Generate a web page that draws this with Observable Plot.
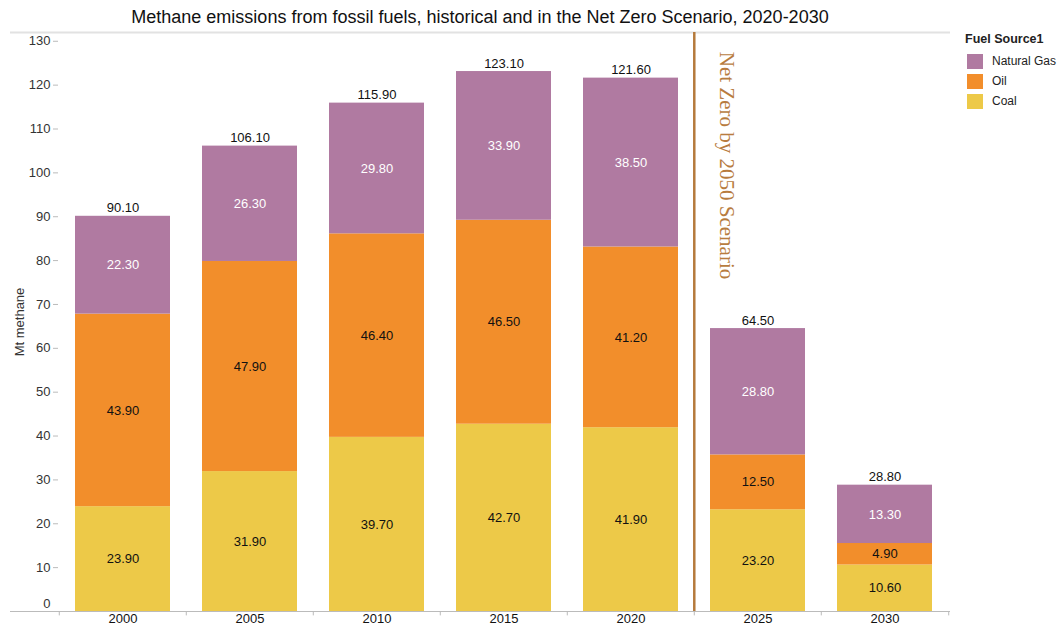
<!DOCTYPE html>
<html>
<head>
<meta charset="utf-8">
<script src="https://cdn.jsdelivr.net/npm/d3@7"></script>
<script src="https://cdn.jsdelivr.net/npm/@observablehq/plot@0.6"></script>
<style>
  html, body { margin: 0; padding: 0; background: #fff; }
  body { width: 1064px; height: 626px; position: relative; overflow: hidden; font-family: "Liberation Sans", Arial, sans-serif; }
  #title { position: absolute; left: 0; width: 960px; top: 7px; text-align: center; font-size: 18px; color: #111; }
  #chart { position: absolute; left: 0; top: 26px; }
  #chart svg { overflow: visible; }
  #legend { position: absolute; left: 965px; top: 32px; font-size: 12px; color: #222; }
  #legend .lt { font-weight: bold; font-size: 12.5px; margin-bottom: 5px; }
  #legend .row { display: flex; align-items: center; height: 20px; }
  #legend .sw { width: 16px; height: 15px; margin-left: 2px; margin-right: 9px; }
</style>
</head>
<body>
<div id="title">Methane emissions from fossil fuels, historical and in the Net Zero Scenario, 2020-2030</div>
<div id="chart"></div>
<div id="legend"></div>
<script>
const years = ["2000", "2005", "2010", "2015", "2020", "2025", "2030"];
const coal = [23.9, 31.9, 39.7, 42.7, 41.9, 23.2, 10.6];
const oil = [43.9, 47.9, 46.4, 46.5, 41.2, 12.5, 4.9];
const gas = [22.3, 26.3, 29.8, 33.9, 38.5, 28.8, 13.3];
const totals = [90.1, 106.1, 115.9, 123.1, 121.6, 64.5, 28.8];
const fuels = ["Natural Gas", "Oil", "Coal"];
const colors = ["#b07aa1", "#f28e2b", "#edc948"];
const yTicks = [10, 20, 30, 40, 50, 60, 70, 80, 90, 100, 110, 120, 130];
const scenarioStart = "2025";
const scenarioLabel = "Net Zero by 2050 Scenario";

// build long table, stacking order: Coal bottom, Oil, Natural Gas top
const rows = [];
years.forEach((yr, i) => {
  const segs = [["Coal", coal[i]], ["Oil", oil[i]], ["Natural Gas", gas[i]]];
  let base = 0;
  for (const [fuel, v] of segs) {
    rows.push({year: yr, fuel, value: v, y1: base, y2: base + v, mid: base + v / 2});
    base += v;
  }
});
const totalRows = years.map((yr, i) => ({year: yr, total: totals[i]}));

const W = 1064, H = 600;
const mL = 58, mR = 114, mT = 6, mB = 15;
const step = (W - mL - mR) / years.length;
const yTop = 132;

const plot = Plot.plot({
  width: W,
  height: H,
  marginLeft: mL,
  marginRight: mR,
  marginTop: mT,
  marginBottom: mB,
  style: {fontFamily: "Liberation Sans, Arial, sans-serif", fontSize: "13px", color: "#222"},
  x: {domain: years, paddingInner: 0.25, paddingOuter: 0.125, label: null},
  y: {domain: [0, yTop], label: null},
  color: {domain: fuels, range: colors},
  marks: [
    Plot.ruleY([0], {stroke: "#bbb", strokeWidth: 1, insetLeft: -48}),
    Plot.ruleY([yTop], {stroke: "#e2e2e2", strokeWidth: 2, insetLeft: -48}),
    Plot.barY(rows, {x: "year", y1: "y1", y2: "y2", fill: "fuel"}),
    Plot.ruleX(years, {x: d => d, y1: 0, y2: -1, dx: -step / 2, stroke: "#bbb"}),
    Plot.ruleX([years[years.length - 1]], {x: d => d, y1: 0, y2: -1, dx: step / 2, stroke: "#bbb"}),
    Plot.ruleX([scenarioStart], {x: d => d, y1: 0, y2: yTop, dx: -step / 2, stroke: "#b57a3c", strokeWidth: 2.5}),
    Plot.text([scenarioLabel], {x: () => scenarioStart, y: () => 127.6, text: d => d, dx: -31, rotate: 90, textAnchor: "start", fill: "#b87c3f", fontSize: 21, fontFamily: "Liberation Serif, Times New Roman, serif"}),
    Plot.text(rows, {x: "year", y: "mid", text: d => d.value.toFixed(2), fill: d => d.fuel === "Natural Gas" ? "#fff" : "#111", fontSize: 13}),
    Plot.text(totalRows, {x: "year", y: "total", text: d => d.total.toFixed(2), dy: -8, fill: "#111", fontSize: 13}),
    Plot.axisY({ticks: yTicks, tickSize: 5, tickPadding: 3, stroke: "#bbb", fill: "#333", fontSize: 13, label: "Mt methane", labelAnchor: "center", labelArrow: "none", labelOffset: 44}),
    Plot.text([0], {frameAnchor: "left", y: d => d, text: d => String(d), dx: -8, dy: -8, textAnchor: "end", fill: "#333", fontSize: 13}),
    Plot.axisX({tickSize: 0, tickPadding: 2, fill: "#111", fontSize: 13, label: null})
  ]
});
document.getElementById("chart").appendChild(plot);

const legend = document.getElementById("legend");
legend.innerHTML = `<div class="lt">Fuel Source1</div>` +
  fuels.map((f, i) => `<div class="row"><div class="sw" style="background:${colors[i]}"></div><span>${f}</span></div>`).join("");
</script>
</body>
</html>
